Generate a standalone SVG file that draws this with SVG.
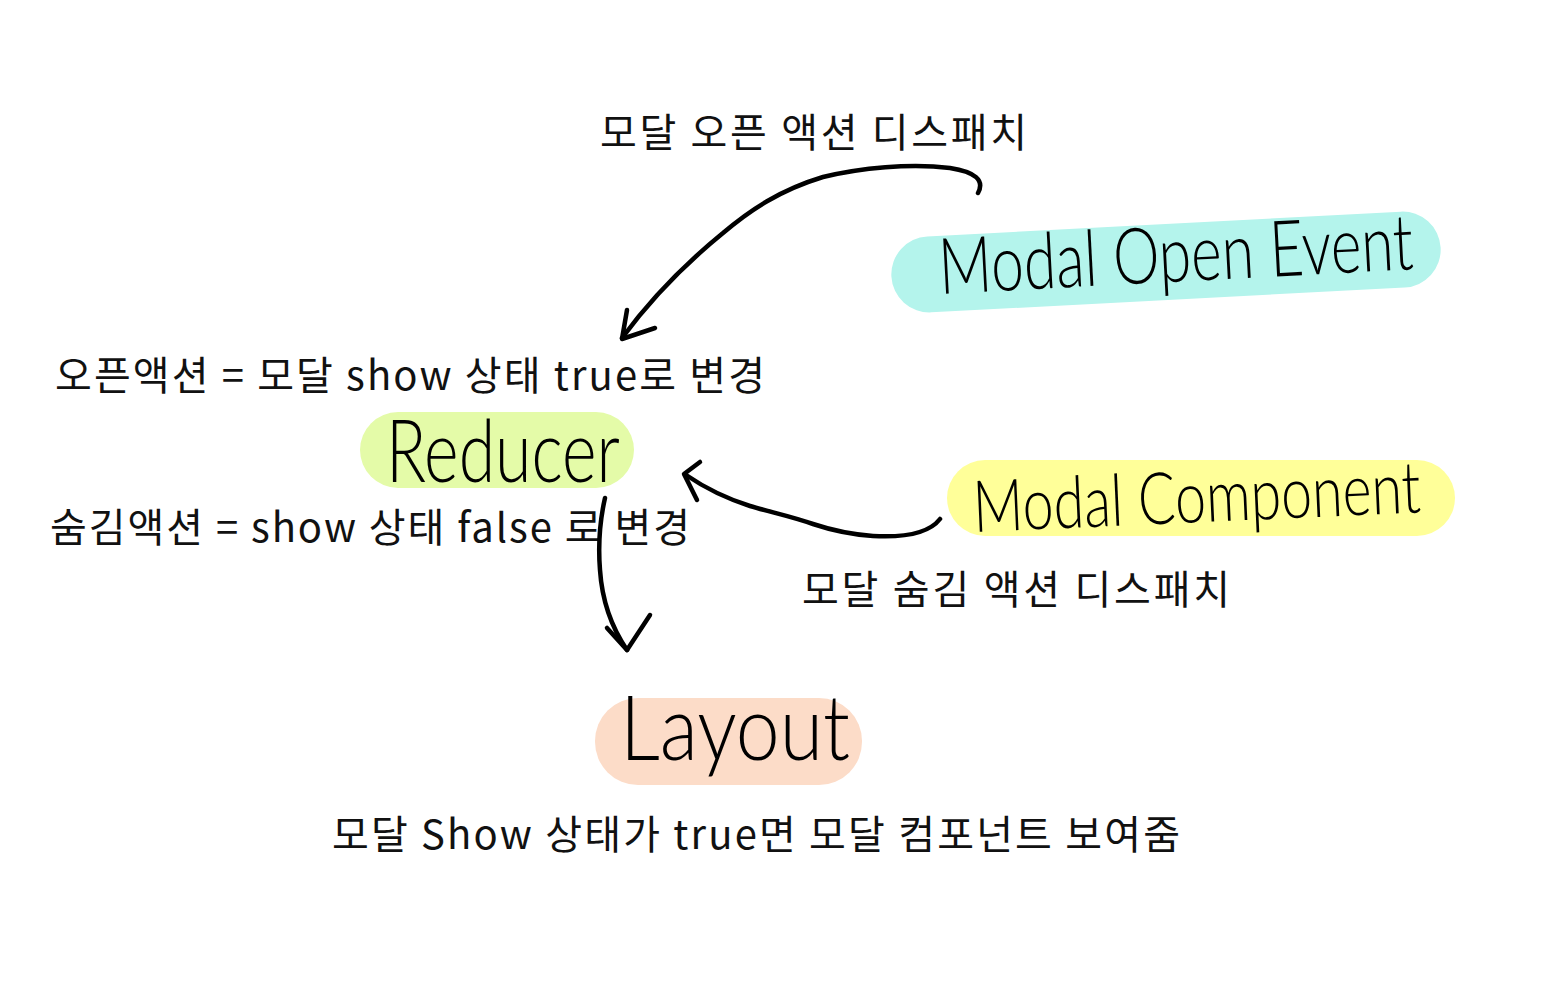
<svg xmlns="http://www.w3.org/2000/svg" width="1550" height="1000" viewBox="0 0 1550 1000">
<style>
.ko{font-family:"Noto Sans CJK KR","Noto Sans",sans-serif;font-size:40px;fill:#111}
.hw{font-family:"Lato","Open Sans",sans-serif;font-weight:300;fill:#000}
.conn{fill:none;stroke:#000;stroke-width:4.5;stroke-linecap:round;stroke-linejoin:round}
</style>
<rect width="1550" height="1000" fill="#fff"/>
<g id="node-open-event">
<rect x="891" y="224" width="550" height="76" rx="38" fill="#b4f4ec" transform="rotate(-3 1166 262)"/>
<text class="hw" x="940" y="294" font-size="78" textLength="475" lengthAdjust="spacingAndGlyphs" transform="rotate(-3 940 294)">Modal Open Event</text>
</g>
<g id="node-reducer">
<rect x="360" y="412" width="274" height="76" rx="38" fill="#e4fba8"/>
<text class="hw" x="386" y="482" font-size="86" textLength="234" lengthAdjust="spacingAndGlyphs">Reducer</text>
</g>
<g id="node-component">
<rect x="947" y="460" width="508" height="76" rx="38" fill="#ffff99"/>
<text class="hw" x="974" y="532" font-size="72" textLength="448" lengthAdjust="spacingAndGlyphs" transform="rotate(-2.5 974 532)">Modal Component</text>
</g>
<g id="node-layout">
<rect x="595" y="698" width="267" height="87" rx="43" fill="#fcdcc8"/>
<text class="hw" x="620" y="760" font-size="90" textLength="230" lengthAdjust="spacingAndGlyphs">Layout</text>
</g>
<g id="labels">
<text class="ko" x="600" y="147" textLength="427">모달 오픈 액션 디스패치</text>
<text class="ko" x="55" y="390" textLength="710">오픈액션 = 모달 show 상태 true로 변경</text>
<text class="ko" x="50" y="542" textLength="640">숨김액션 = show 상태 false 로 변경</text>
<text class="ko" x="802" y="604" textLength="428">모달 숨김 액션 디스패치</text>
<text class="ko" x="332" y="849" textLength="848">모달 Show 상태가 true면 모달 컴포넌트 보여줌</text>
</g>
<g id="connectors">
<path class="conn" d="M978 193 C985 180 975 172 950 168 C910 163 860 168 823 177 C780 190 750 210 723 233 C680 268 650 300 622 338"/>
<path class="conn" d="M627 310 L622 339 L655 328"/>
<path class="conn" d="M940 519 C930 532 910 538 873 536 C845 534 825 528 813 524 C790 516 770 512 750 506 C725 498 705 488 686 475"/>
<path class="conn" d="M700 462 L684 474 L697 500"/>
<path class="conn" d="M605 498 C600 520 598 545 600 570 C602 600 612 628 627 650"/>
<path class="conn" d="M607 628 L627 650 L650 615"/>
</g>
</svg>
